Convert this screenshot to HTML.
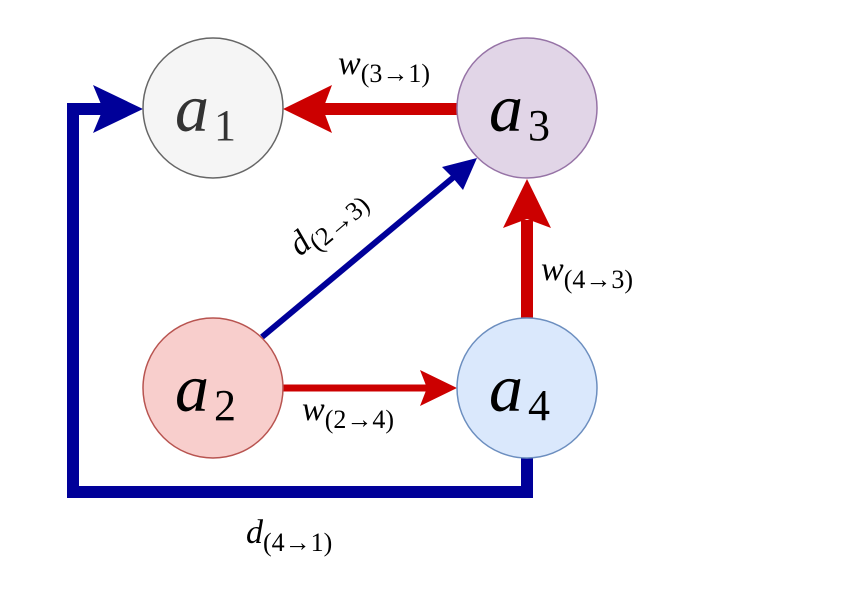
<!DOCTYPE html>
<html><head><style>
body{margin:0;background:#fff;width:842px;height:603px;overflow:hidden}
</style></head><body>
<svg width="842" height="603" xmlns="http://www.w3.org/2000/svg" font-family="'Liberation Serif',serif">
<polyline points="527,458 527,492 73,492 73,109 105,109" fill="none" stroke="#000099" stroke-width="12"/>
<polygon points="143,109 93,85 103,109 93,133" fill="#000099"/>
<line x1="262" y1="337" x2="455" y2="176" stroke="#000099" stroke-width="6"/>
<polygon points="477,158 442,167 453,178 463,190" fill="#000099"/>
<line x1="457" y1="109" x2="320" y2="109" stroke="#cc0000" stroke-width="12"/>
<polygon points="283,109 332,85 323,109 332,133" fill="#cc0000"/>
<line x1="527" y1="318" x2="527" y2="220" stroke="#cc0000" stroke-width="12"/>
<polygon points="527,179 503,228 527,219 551,228" fill="#cc0000"/>
<line x1="283" y1="388" x2="430" y2="388" stroke="#cc0000" stroke-width="7"/>
<polygon points="457,388 420,370 427,388 420,406" fill="#cc0000"/>
<circle cx="213" cy="108" r="70" fill="#f5f5f5" stroke="#666" stroke-width="1.5"/>
<circle cx="527" cy="108" r="70" fill="#e1d5e7" stroke="#9673a6" stroke-width="1.5"/>
<circle cx="213" cy="388" r="70" fill="#f8cecc" stroke="#b85450" stroke-width="1.5"/>
<circle cx="527" cy="388" r="70" fill="#dae8fc" stroke="#6c8ebf" stroke-width="1.5"/>
<g font-style="italic" font-size="68">
<text x="175" y="131" fill="#333">a</text><text x="214" y="140" font-style="normal" font-size="44" fill="#333">1</text>
<text x="489" y="131">a</text><text x="528" y="140" font-style="normal" font-size="44">3</text>
<text x="175" y="411">a</text><text x="214" y="420" font-style="normal" font-size="44">2</text>
<text x="489" y="411">a</text><text x="528" y="420" font-style="normal" font-size="44">4</text>
</g>
<g font-size="26">
<text x="338" y="74"><tspan font-style="italic" font-size="34">w</tspan><tspan dy="8">(3→1)</tspan></text>
<text x="541" y="280"><tspan font-style="italic" font-size="34">w</tspan><tspan dy="8">(4→3)</tspan></text>
<text x="302" y="420"><tspan font-style="italic" font-size="34">w</tspan><tspan dy="8">(2→4)</tspan></text>
<text x="246" y="543"><tspan font-style="italic" font-size="34">d</tspan><tspan dy="8">(4→1)</tspan></text>
<text transform="translate(300,257) rotate(-40)"><tspan font-style="italic" font-size="34">d</tspan><tspan dy="8">(2→3)</tspan></text>
</g>
</svg>
</body></html>
